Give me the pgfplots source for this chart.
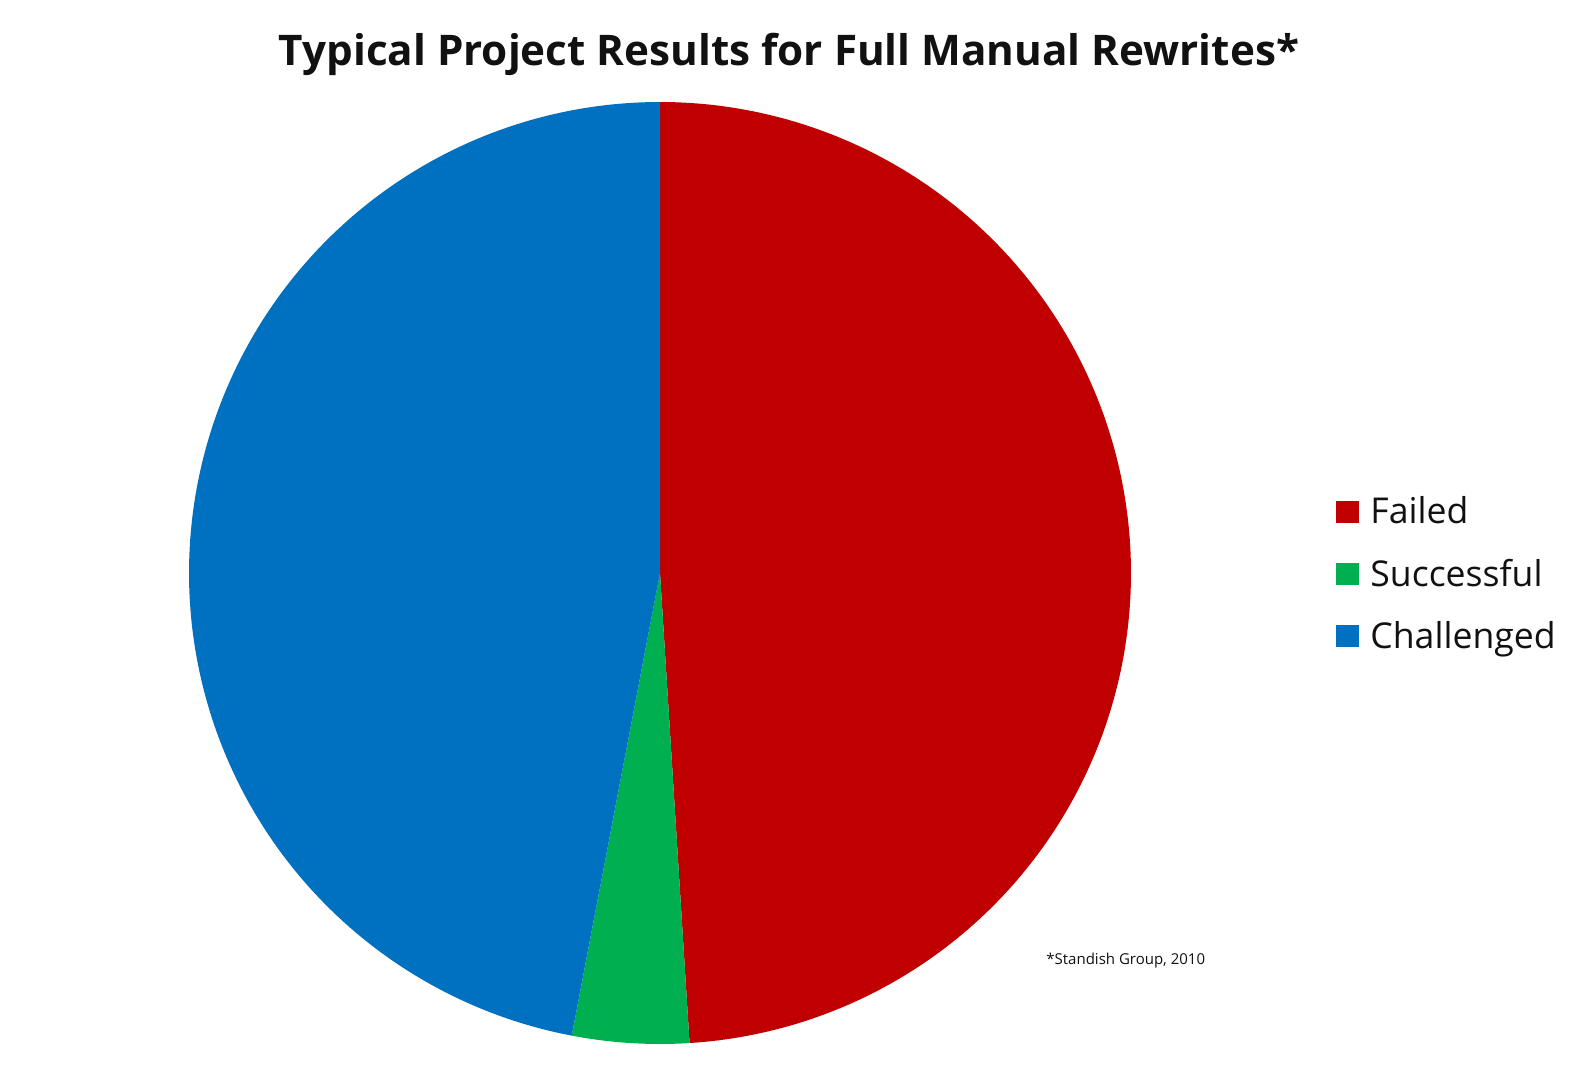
\documentclass[border=0pt]{standalone}
\usepackage{fontspec}
\setmainfont{Open Sans}
\usepackage{pgfplots}
\pgfplotsset{compat=1.18}
\definecolor{cRed}{HTML}{C00000}
\definecolor{cGreen}{HTML}{00B050}
\definecolor{cBlue}{HTML}{0070C0}
\definecolor{cText}{HTML}{111111}
% shares in percent
\def\vFailed{49}
\def\vSuccess{4}
\def\vChall{47}
\begin{document}
\begin{tikzpicture}
\pgfmathsetmacro\aA{90}
\pgfmathsetmacro\aB{90-\vFailed*3.6}
\pgfmathsetmacro\aC{\aB-\vSuccess*3.6}
\pgfmathsetmacro\aD{\aC-\vChall*3.6}
\begin{axis}[hide axis, scale only axis, width=471pt, height=471pt,
  xmin=-1, xmax=1, ymin=-1, ymax=1, at={(94.5pt,13pt)}, anchor=south west,
  clip=false,
  legend style={at={(1.2176,0.499)}, anchor=west, draw=none, fill=none,
    inner sep=0pt, font=\fontsize{17.8}{21}\selectfont, text=cText,
    row sep=13pt, nodes={inner sep=1.5pt},
    /tikz/every odd column/.append style={column sep=4pt}},
  legend cell align=left,
  legend image code/.code={\fill[#1] (0pt,-5.5pt) rectangle (11.5pt,5.5pt);},
  ]
\addplot[fill=cRed, draw=none, domain=\aB:\aA, samples=200, variable=\t]
  ({cos(t)},{sin(t)}) -- (axis cs:0,0) -- cycle;
\addlegendentry{Failed}
\addplot[fill=cGreen, draw=none, domain=\aC:\aB, samples=40, variable=\t]
  ({cos(t)},{sin(t)}) -- (axis cs:0,0) -- cycle;
\addlegendentry{Successful}
\addplot[fill=cBlue, draw=none, domain=\aD:\aC, samples=200, variable=\t]
  ({cos(t)},{sin(t)}) -- (axis cs:0,0) -- cycle;
\addlegendentry{Challenged}
\end{axis}
\node[anchor=base, inner sep=0pt, text=cText, font=\fontsize{21.1}{25}\bfseries\selectfont] at (394.5pt,502.15pt) {Typical Project Results for Full Manual Rewrites*};
\node[anchor=base west, inner sep=0pt, text=cText, font=\fontsize{7.5}{9}\selectfont] at (523pt,52.5pt) {*Standish Group, 2010};
\pgfresetboundingbox
\path[use as bounding box] (0pt,0pt) rectangle (789pt,535pt);
\end{tikzpicture}
\end{document}
